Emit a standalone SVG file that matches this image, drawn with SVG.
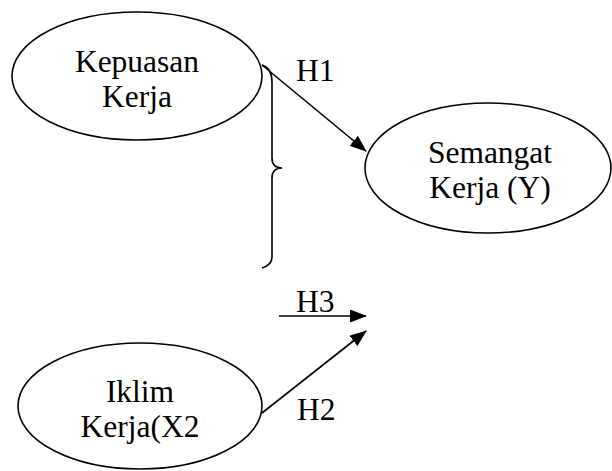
<svg xmlns="http://www.w3.org/2000/svg" width="612" height="471" viewBox="0 0 612 471">
<style>
.node{fill:#fff;stroke:#000;stroke-width:1.6}
.t{font-family:"Liberation Serif","Times New Roman",serif;font-size:31.5px;fill:#000}
.c{fill:none;stroke:#000;stroke-width:1.6}
</style>
<defs>
<marker id="ah" viewBox="0 0 17 13" refX="16" refY="6.5" markerWidth="17" markerHeight="13" markerUnits="userSpaceOnUse" orient="auto">
<path d="M0,0 L17,6.5 L0,13 Z" fill="#000"/>
</marker>
</defs>
<rect width="612" height="471" fill="#fff"/>
<g id="n1">
<ellipse class="node" cx="137" cy="76" rx="125" ry="64"/>
<text class="t" x="137" y="72" text-anchor="middle">Kepuasan</text>
<text class="t" x="137" y="107" text-anchor="middle">Kerja</text>
</g>
<g id="n2">
<ellipse class="node" cx="488" cy="168" rx="123" ry="65"/>
<text class="t" x="490" y="163" text-anchor="middle">Semangat</text>
<text class="t" x="490" y="198" text-anchor="middle">Kerja (Y)</text>
</g>
<g id="n3">
<ellipse class="node" cx="140" cy="406" rx="122" ry="63"/>
<text class="t" x="140" y="402" text-anchor="middle">Iklim</text>
<text class="t" x="140" y="437" text-anchor="middle">Kerja(X2</text>
</g>
<g id="connectors">
<line class="c" x1="262" y1="65" x2="366" y2="151" marker-end="url(#ah)"/>
<path class="c" d="M262,65 Q272,68 272,82 L272,158 Q272,168 282,168 Q272,168 272,178 L272,257 Q272,265 262,268"/>
<line class="c" x1="279" y1="316" x2="366" y2="316" marker-end="url(#ah)"/>
<line class="c" x1="262" y1="413" x2="366" y2="331" marker-end="url(#ah)"/>
<text class="t" x="296" y="81">H1</text>
<text class="t" x="296" y="312">H3</text>
<text class="t" x="297" y="420">H2</text>
</g>
</svg>
